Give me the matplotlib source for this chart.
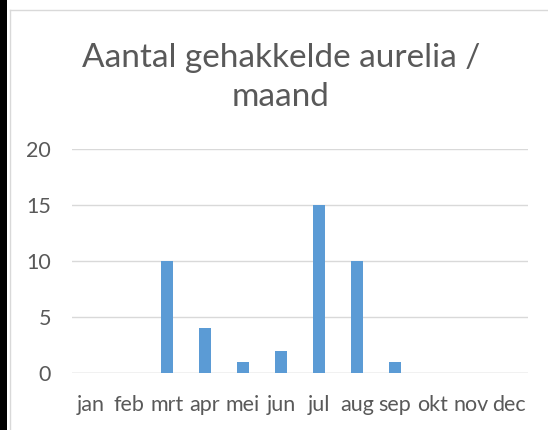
import matplotlib.pyplot as plt
from matplotlib.patches import Rectangle
from matplotlib.lines import Line2D

# Data
months = ['jan', 'feb', 'mrt', 'apr', 'mei', 'jun', 'jul', 'aug', 'sep', 'okt', 'nov', 'dec']
counts = [0, 0, 10, 4, 1, 2, 15, 10, 1, 0, 0, 0]
yticks = [0, 5, 10, 15, 20]

W, H = 548, 430
text_color = '#595959'
plt.rcParams['font.family'] = ['Lato', 'DejaVu Sans']

fig = plt.figure(figsize=(W / 100, H / 100), dpi=100)
fig.patch.set_facecolor('white')

# black strip on the far left and light chart frame
fig.add_artist(Rectangle((0, 0), 7 / W, 1, transform=fig.transFigure, color='black', lw=0))
fig.add_artist(Line2D([9.5 / W, 9.5 / W], [0, 1 - 9.5 / H], transform=fig.transFigure, color='#D9D9D9', lw=1))
fig.add_artist(Line2D([9.5 / W, 1], [1 - 9.5 / H, 1 - 9.5 / H], transform=fig.transFigure, color='#D9D9D9', lw=1))

ax = fig.add_axes([72 / W, 1 - 373 / H, 456 / W, 224 / H])
x = range(len(months))
ax.bar(x, counts, width=0.31, color='#5B9BD5', zorder=3)
ax.set_xlim(-0.5, len(months) - 0.5)
ax.set_ylim(0, 20)
ax.set_yticks(yticks)
ax.set_xticks(list(x))
ax.set_xticklabels(months)
ax.grid(axis='y', color='#D9D9D9', lw=1, zorder=0)
for s in ax.spines.values():
    s.set_visible(False)
ax.axhline(0, color='#D9D9D9', lw=1, zorder=2)
ax.tick_params(length=0, labelsize=15.5, colors=text_color)
ax.tick_params(axis='x', pad=16)
ax.tick_params(axis='y', pad=15)

fig.text(281 / W, 1 - 58 / H, 'Aantal gehakkelde aurelia /', ha='center', va='center',
         fontsize=24, color=text_color)
fig.text(281 / W, 1 - 97 / H, 'maand', ha='center', va='center',
         fontsize=24, color=text_color)

fig.savefig('out.png', dpi=100)
